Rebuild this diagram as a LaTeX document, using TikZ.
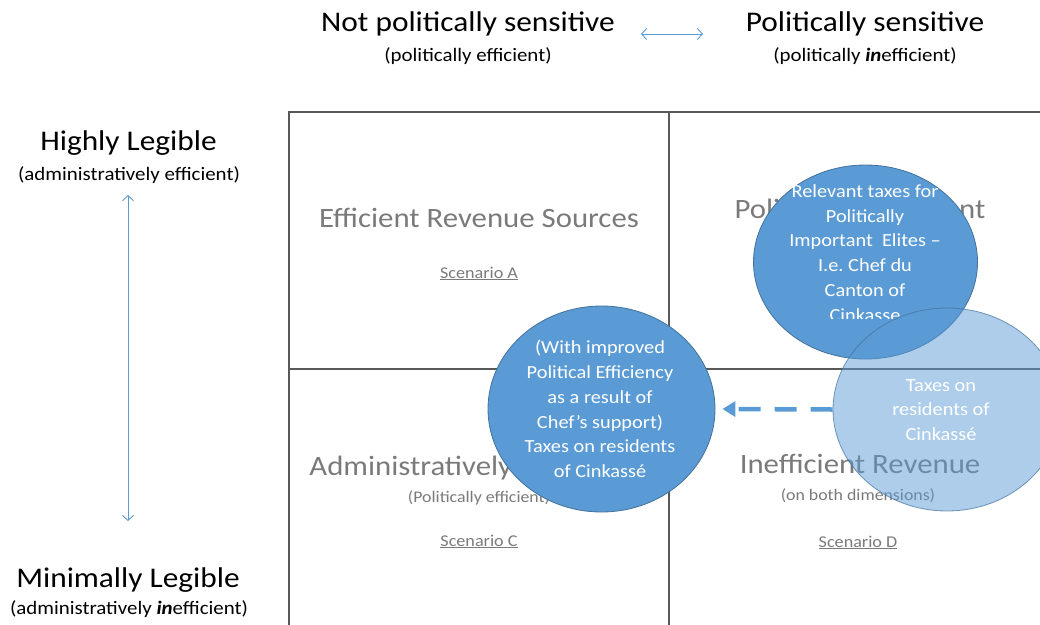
\documentclass[tikz,border=0pt]{standalone}
\usepackage{fontspec}
\setmainfont{Carlito}[FakeStretch=1.1]
\usetikzlibrary{arrows.meta,shapes.geometric}
\definecolor{accent}{HTML}{5B9BD5}
\definecolor{accentdark}{HTML}{41719C}
\definecolor{gridgray}{HTML}{595959}
\definecolor{qgray}{HTML}{7A7A7A}
\begin{document}
\begin{tikzpicture}[x=1pt,y=-1pt,
 hdr/.style={font=\fontsize{28.5}{34}\selectfont, anchor=base, inner sep=0},
 hsub/.style={font=\fontsize{19}{23}\selectfont, anchor=base, inner sep=0},
 qtitle/.style={font=\fontsize{28}{34}\selectfont, text=qgray, anchor=base, inner sep=0},
 qsub/.style={font=\fontsize{16.2}{20}\selectfont, text=qgray, anchor=base, inner sep=0},
 scen/.style={font=\fontsize{16.5}{20}\selectfont, text=qgray, anchor=base, inner sep=0},
 gridline/.style={draw=gridgray, line width=1.3pt},
 axisarrow/.style={draw=accent, line width=0.9pt, {Straight Barb[length=5pt,width=11pt]}-{Straight Barb[length=5pt,width=11pt]}},
 bubble/.style={ellipse, draw=accentdark, line width=0.8pt, fill=accent, inner sep=0},
 bubbletext/.style={font=\fontsize{18.5}{24.8}\selectfont, text=white, align=center, inner sep=0},
 dasharrow/.style={draw=accent, line width=4.5pt, dash pattern=on 22pt off 14pt, -{Triangle[length=13pt,width=15pt]}},
]
\useasboundingbox (0,0) rectangle (1040,624);
\clip (0,0) rectangle (1040,624);

% headers
\node[hdr] (hnot) at (468,31) {Not politically sensitive};
\node[hsub] (hnotsub) at (468,61) {(politically efficient)};
\node[hdr] (hpol) at (865,31) {Politically sensitive};
\node[hsub] (hpolsub) at (865,61) {(politically \textbf{\textit{in}}efficient)};
\coordinate (ha) at (641,34);
\coordinate (hb) at (703,34);
\draw[axisarrow] (ha) -- (hb);

\node[hdr] (vhigh) at (128.5,150) {Highly Legible};
\node[hsub] (vhighsub) at (129,180) {(administratively efficient)};
\node[hdr] (vlow) at (128,587) {Minimally Legible};
\node[hsub] (vlowsub) at (129,614) {(administratively \textbf{\textit{in}}efficient)};
\coordinate (va) at (128,195);
\coordinate (vb) at (128,521);
\draw[axisarrow] (va) -- (vb);

% grid
\draw[gridline] (289,640) -- (289,112) -- (1050,112);
\draw[gridline] (669,112) -- (669,640);
\draw[gridline] (289,369) -- (1050,369);

% quadrant texts
\node[qtitle] (qa) at (479,227) {Efficient Revenue Sources};
\node[scen] (sa) at (479,278) {\underline{Scenario A}};
\node[qtitle] (qb) at (860,218) {Politically Inefficient};
\node[qtitle] (qc) at (477,475) {Administratively Inefficient};
\node[qsub] (qcsub) at (479,502) {(Politically efficient)};
\node[scen] (sc) at (479,546) {\underline{Scenario C}};
\node[qtitle] (qd) at (860,473) {Inefficient Revenue};
\node[qsub] (qdsub) at (858,500) {(on both dimensions)};
\node[scen] (sd) at (858,547) {\underline{Scenario D}};

% bubbles
\node[bubble, minimum width=224pt, minimum height=194pt] (C2) at (865.5,262) {};
\begin{scope}
\clip (740,160) rectangle (990,318);
\node[bubbletext] (C2t) at (865,253) {Relevant taxes for\\Politically\\Important\ \ Elites –\\I.e.\ Chef du\\Canton of\\Cinkasse};
\end{scope}
\node[bubble, minimum width=227pt, minimum height=206pt] (C1) at (601.5,409) {};
\node[bubbletext] (C1t) at (600,409) {(With improved\\Political Efficiency\\as a result of\\Chef’s support)\\Taxes on residents\\of Cinkassé};
\node[bubble, fill opacity=0.5, draw opacity=0.7, minimum width=228pt, minimum height=203pt] (C3) at (947,409.5) {};
\node[bubbletext] (C3t) at (941,410) {Taxes on\\residents of\\Cinkassé};
\draw[dasharrow] (C3.west) -- ([xshift=7pt]C1.east);
\end{tikzpicture}
\end{document}
